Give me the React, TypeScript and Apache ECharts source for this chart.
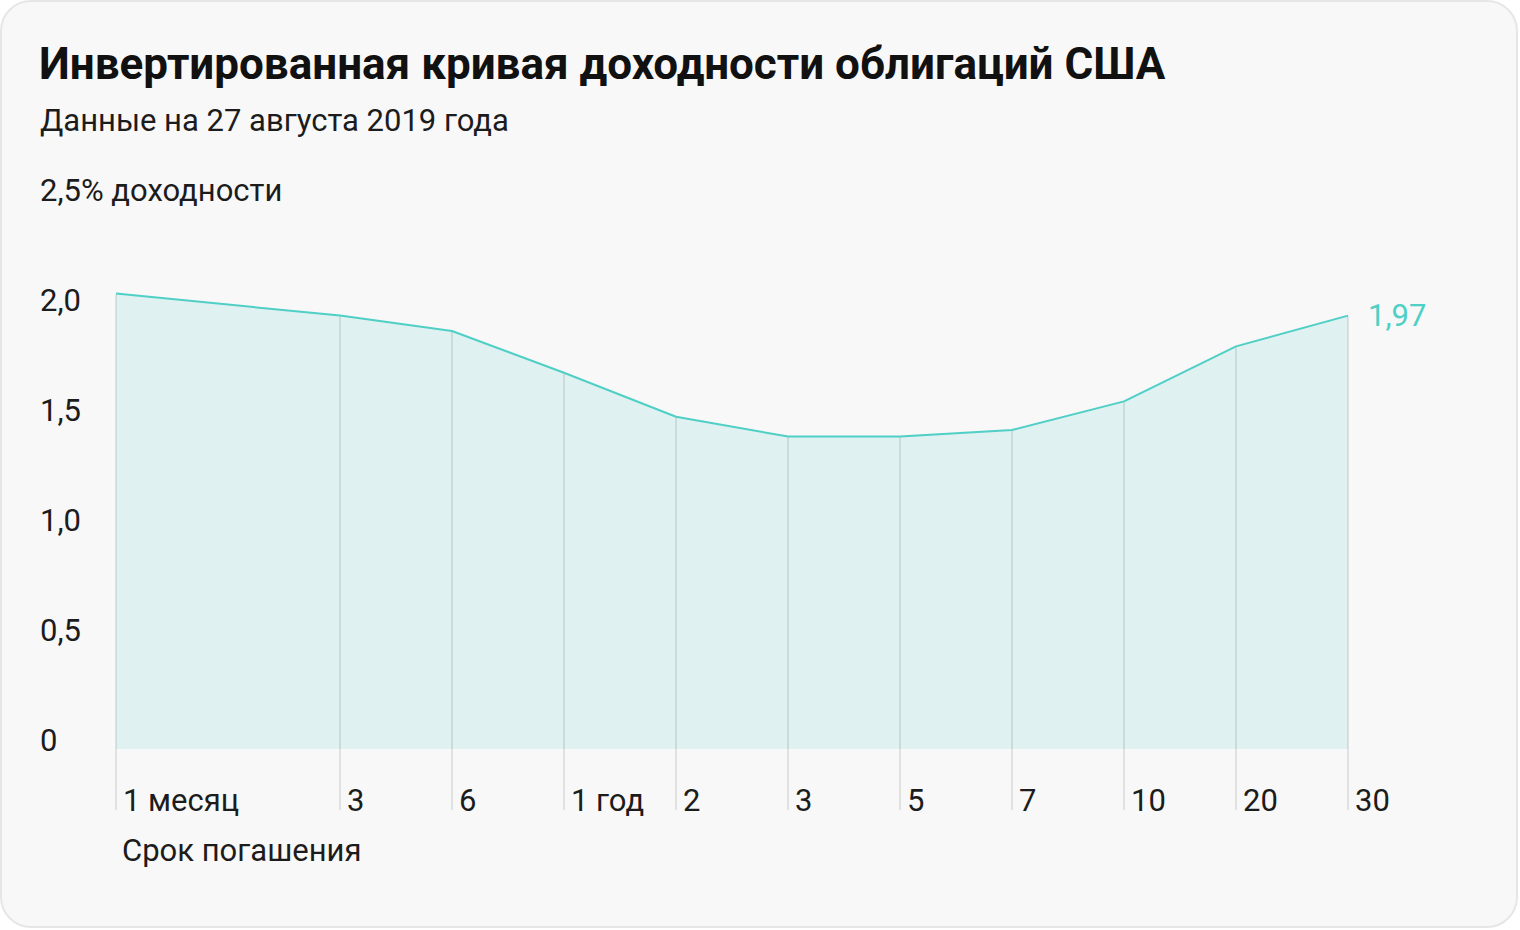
import React, { useEffect, useRef } from "react";
import * as echarts from "echarts";

const maturities = ["1M", "2M", "3M", "6M", "1Y", "2Y", "3Y", "5Y", "7Y", "10Y", "20Y", "30Y"];
const tickLabels = ["1 месяц", "", "3", "6", "1 год", "2", "3", "5", "7", "10", "20", "30"];
const yields: (number | null)[] = [2.07, null, 1.97, 1.9, 1.71, 1.51, 1.42, 1.42, 1.45, 1.58, 1.83, 1.97];
const yTicks = [0, 0.5, 1, 1.5, 2, 2.5];

const TITLE = "Инвертированная кривая доходности облигаций США";
const SUBTITLE = "Данные на 27 августа 2019 года";
const X_NAME = "Срок погашения";
const Y_NAME = "доходности";

const FONT = "Roboto, 'Noto Sans', sans-serif";
const TEAL = "#4fcfc5";
const TXT = "#1c1c1c";

const fmt = (v: number) => (v === 0 ? "0" : v.toFixed(v === Math.round(v * 10) / 10 ? 1 : 2).replace(".", ","));

export default function App() {
  const ref = useRef<HTMLDivElement>(null);
  useEffect(() => {
    if (!ref.current) return;
    const chart = echarts.init(ref.current, null, { renderer: "svg" });
    const last = yields[yields.length - 1] as number;
    chart.setOption({
      animation: false,
      backgroundColor: "#ffffff",
      textStyle: { fontFamily: FONT },
      graphic: [
        {
          type: "rect",
          z: -10,
          shape: { x: 1, y: 1, width: 1516, height: 926, r: 30 },
          style: { fill: "#f8f8f8", stroke: "#e6e6e6", lineWidth: 2 },
        },
      ],
      title: [
        {
          text: TITLE,
          left: 39,
          top: 41,
          padding: 0,
          textStyle: { fontFamily: FONT, fontSize: 44, fontWeight: "bold", color: "#111111", lineHeight: 46 },
        },
        {
          text: SUBTITLE,
          left: 40,
          top: 104,
          padding: 0,
          textStyle: { fontFamily: FONT, fontSize: 31, fontWeight: "normal", color: TXT, lineHeight: 32 },
        },
        {
          text: X_NAME,
          left: 122,
          top: 834,
          padding: 0,
          textStyle: { fontFamily: FONT, fontSize: 31, fontWeight: "normal", color: TXT, lineHeight: 32 },
        },
      ],
      grid: { left: 116, right: 172, top: 199, bottom: 181, containLabel: false },
      xAxis: {
        type: "category",
        data: maturities,
        boundaryGap: false,
        axisLine: { show: false },
        axisTick: { show: false },
        splitLine: { show: false },
        axisLabel: {
          interval: 0,
          margin: 35,
          align: "left",
          padding: [0, 0, 0, 7],
          fontSize: 31,
          lineHeight: 32,
          color: TXT,
          fontFamily: FONT,
          formatter: (_v: string, i: number) => tickLabels[i],
        },
      },
      yAxis: {
        type: "value",
        min: 0,
        max: 2.5,
        interval: 0.5,
        axisLine: { show: false },
        axisTick: { show: false },
        splitLine: { show: false },
        axisLabel: {
          margin: 76,
          align: "left",
          verticalAlign: "bottom",
          fontSize: 31,
          lineHeight: 18,
          color: TXT,
          fontFamily: FONT,
          customValues: yTicks,
          formatter: (v: number) => (v === 2.5 ? fmt(v) + "% " + Y_NAME : fmt(v)),
        },
      },
      series: [
        {
          type: "line",
          z: 2,
          data: yields,
          connectNulls: true,
          showSymbol: false,
          symbol: "none",
          lineStyle: { color: TEAL, width: 2 },
          areaStyle: { color: "#dff1f0", opacity: 1 },
          endLabel: {
            show: true,
            distance: 20,
            formatter: () => fmt(last),
            fontSize: 31,
            color: TEAL,
            fontFamily: FONT,
          },
        },
        {
          type: "custom",
          z: 3,
          clip: false,
          silent: true,
          data: yields.map((v, i) => [i, v]),
          renderItem: (params: any, api: any) => {
            const v = api.value(1);
            if (v === null || v === undefined || isNaN(v)) return null;
            const top = api.coord([api.value(0), v]);
            const base = api.coord([api.value(0), 0]);
            return {
              type: "line",
              shape: { x1: top[0], y1: top[1] + 1, x2: top[0], y2: base[1] + 61 },
              style: { stroke: "rgba(0,0,0,0.09)", lineWidth: 2 },
            };
          },
        },
      ],
    });
    return () => chart.dispose();
  }, []);
  return (
    <div
      ref={ref}
      style={{ position: "absolute", left: 0, top: 0, width: 1520, height: 930 }}
    />
  );
}
